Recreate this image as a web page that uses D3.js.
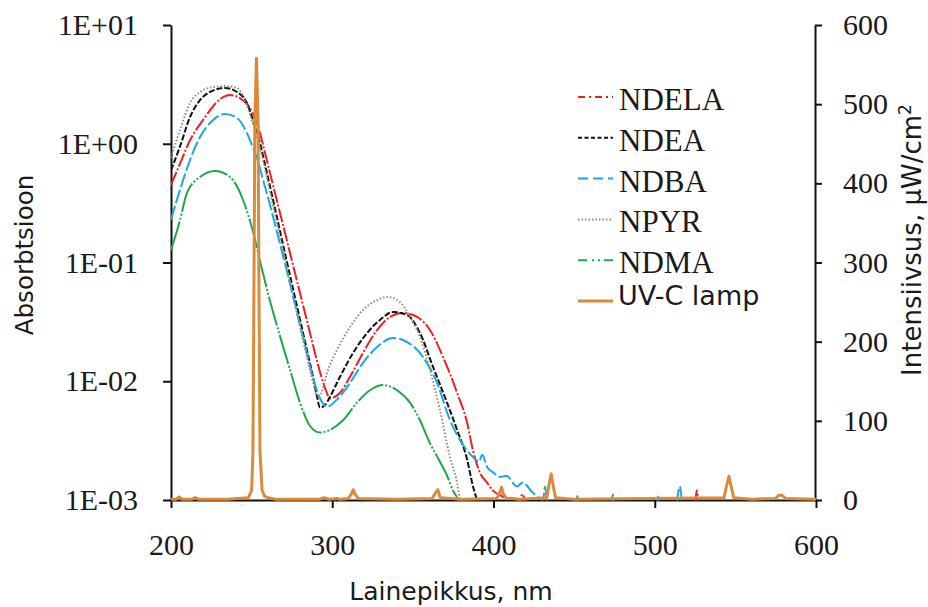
<!DOCTYPE html>
<html>
<head>
<meta charset="utf-8">
<script src="https://cdn.jsdelivr.net/npm/d3@7"></script>
<style>
  body { margin: 0; background: #fff; }
  .tick text { font-family: "Liberation Serif", "Times New Roman", serif; font-size: 30px; fill: #1a1a1a; }
  .title { font-family: "DejaVu Sans", Verdana, sans-serif; fill: #1a1a1a; }
  .legend text { font-family: "Liberation Serif", "Times New Roman", serif; font-size: 31px; fill: #1a1a1a; }
</style>
</head>
<body>
<svg></svg>
<script>
// absorbance readings [nm, A]
const ndela = [[200,0.45],[205.6,0.68],[211.8,1.07],[219.8,1.58],[229.8,2.33],[236.6,2.57],[242.8,2.42],[249,2.0],[255.2,1.23],[258.3,0.836],[261.4,0.567],[265.7,0.33],[269.5,0.207],[273.8,0.12],[276.9,0.0817],[280,0.0553],[286.2,0.0255],[291.2,0.0137],[295.5,0.0088],[298.6,0.0072],[302.3,0.0075],[304.8,0.008],[311,0.0109],[319,0.0173],[327.8,0.027],[335.8,0.0348],[343.9,0.0376],[352.6,0.0348],[360.6,0.027],[368.7,0.016],[377.4,0.008],[383.6,0.0045],[387.3,0.0026],[391.6,0.0017],[396,0.0014],[399.7,0.0012],[405.9,0.00106],[410,0.00095],[416,0.001],[418,0.00112],[420,0.00095],[424,0.0009],[525,0.0009],[526,0.0012],[527,0.0009]]
const ndea = [[200,0.6],[205.6,0.95],[211.8,1.68],[218,2.33],[224.2,2.73],[233.5,2.95],[240.9,2.73],[247.1,2.2],[250.9,1.58],[253.3,1.26],[255.2,1.01],[259.5,0.567],[263.3,0.336],[267.6,0.184],[271.9,0.101],[278.1,0.043],[284.3,0.0183],[288.1,0.0109],[290.5,0.0075],[292.4,0.006],[295.5,0.0063],[298.6,0.0074],[304.8,0.0109],[312.9,0.0173],[321.6,0.0255],[329.6,0.0328],[337.7,0.0383],[346.4,0.0361],[354.4,0.0255],[362.5,0.0132],[371.2,0.0066],[377.4,0.0039],[383.6,0.0022],[387.3,0.0013],[389.8,0.001],[391,0.0009]]
const ndba = [[200,0.23],[205.6,0.41],[211.8,0.73],[218,1.14],[226,1.58],[233.5,1.78],[240.9,1.65],[247.1,1.23],[250.2,0.976],[253.3,0.759],[257.1,0.496],[261.4,0.305],[265.7,0.181],[269.5,0.1135],[272.6,0.077],[278.1,0.0383],[283.1,0.0202],[288.1,0.0106],[293.6,0.0067],[296.7,0.0061],[302.9,0.007],[311,0.0097],[319.1,0.0143],[327.8,0.0194],[337.7,0.0231],[346.4,0.0214],[356.3,0.016],[365,0.0097],[373,0.0047],[379.2,0.0032],[387.3,0.0023],[391,0.0021],[393,0.0024],[396,0.0019],[400,0.0017],[404,0.00156],[408,0.0016],[414.6,0.0013],[418,0.0014],[424.5,0.00115],[430.7,0.001],[432,0.0013],[433.5,0.0009],[451,0.0009],[452,0.00108],[453,0.0009],[473,0.0009],[474,0.00112],[475,0.0009],[501,0.0009],[502,0.00107],[503,0.0009],[513,0.0009],[515.5,0.0013],[517,0.0009]]
const npyr = [[200,0.76],[205.6,1.31],[211.8,2.2],[218,2.73],[226,3.0],[233.5,3.06],[240.9,2.95],[245.9,2.33],[250.9,1.45],[253.3,1.15],[255.2,0.92],[259.5,0.52],[263.3,0.3],[267.6,0.165],[271.9,0.09],[278.1,0.037],[284.3,0.016],[288.1,0.0098],[290.5,0.0076],[293,0.0079],[296.7,0.0117],[302.9,0.0183],[311,0.0286],[319.1,0.0398],[327.8,0.0483],[334,0.0513],[342,0.0464],[348.2,0.0348],[354.4,0.0236],[360.6,0.0125],[366.8,0.0057],[373,0.0023],[377.4,0.0014],[379.2,0.001],[380,0.0009]]
const ndma = [[200,0.127],[205.6,0.228],[209.9,0.385],[218,0.525],[227.3,0.59],[236.6,0.525],[244.7,0.336],[250.9,0.181],[255.8,0.0953],[261.4,0.0474],[267.6,0.024],[273.8,0.0125],[280,0.0066],[286.2,0.0042],[292.4,0.0037],[298.6,0.0039],[306.7,0.0047],[315.3,0.0066],[323.4,0.0084],[331.5,0.0093],[340.2,0.0084],[348.2,0.0066],[354.4,0.0047],[360.6,0.003],[366.8,0.0021],[371.2,0.0016],[374.9,0.0012],[378,0.001],[379,0.0009]]

// lamp intensity [nm, µW/cm2]
const lamp = [[200,1],[203,1],[205,4],[207,1],[213,1],[215,3],[217,1],[235,1],[248,3],[250,12],[250.8,60],[251.4,250],[252,480],[253,558],[254,480],[254.6,250],[255.2,60],[256.5,12],[258,5],[260,3],[265,1],[292,1],[295,3],[298,1],[303,2],[305,1],[310,2],[312,8],[313,13],[314,8],[316,2],[340,1],[362,2],[364,9],[365.5,13],[367,3],[380,1],[402,2],[404,10],[405,16],[406,8],[408,2],[412,2],[416,1],[433,3],[434.5,20],[435.8,33],[437,18],[438.5,3],[450,1],[543,3],[544.5,18],[546,30],[547.5,16],[549,3],[560,1],[575,2],[577,6],[579,6],[581,2],[600,1]]

const xTicks = [200, 300, 400, 500, 600]
const absTicks = [0.001, 0.01, 0.1, 1, 10]
const absLabels = ["1E-03", "1E-02", "1E-01", "1E+00", "1E+01"]
const intTicks = [0, 100, 200, 300, 400, 500, 600]

const series = [
  { name: "NDELA", data: ndela, color: "#ee1f25", dash: "14,2,2,2", legendDash: "7,4,2,4" },
  { name: "NDEA", data: ndea, color: "#111111", dash: "6,2", legendDash: "4,2.5" },
  { name: "NDBA", data: ndba, color: "#1ea5e3", dash: "14,3", legendDash: "10,5" },
  { name: "NPYR", data: npyr, color: "#8e8e74", dash: "1.5,2", legendDash: "1.5,2" },
  { name: "NDMA", data: ndma, color: "#22a64c", dash: "30,2,2,2,2,2", legendDash: "9,5,2,4,2,4" }
]

const svg = d3.select("svg")
  .attr("width", 928)
  .attr("height", 607)

const x = d3.scaleLinear().domain([200, 600]).range([171, 816])
const yAbs = d3.scaleLog().domain([0.001, 10]).range([500, 25])
const yInt = d3.scaleLinear().domain([0, 600]).range([500, 25])

// axes
const styleAxis = g => {
  g.selectAll("path, line").attr("stroke", "#111").attr("stroke-width", 2)
}

svg.append("g")
  .attr("transform", "translate(0,500)")
  .call(d3.axisBottom(x).tickValues(xTicks).tickSize(8).tickSizeOuter(0).tickPadding(26).tickFormat(d3.format("d")))
  .call(styleAxis)

svg.append("g")
  .attr("transform", "translate(171,0)")
  .call(d3.axisLeft(yAbs).tickValues(absTicks).tickSize(8).tickSizeOuter(0).tickPadding(25)
    .tickFormat((d, i) => absLabels[i]))
  .call(styleAxis)

svg.append("g")
  .attr("transform", "translate(815,0)")
  .call(d3.axisRight(yInt).tickValues(intTicks).tickSize(7).tickSizeOuter(0).tickPadding(21))
  .call(styleAxis)

// curves
svg.append("clipPath")
  .attr("id", "plot")
  .append("rect")
  .attr("x", 171)
  .attr("y", 0)
  .attr("width", 645)
  .attr("height", 500.5)

const absLine = d3.line()
  .x(d => x(d[0]))
  .y(d => yAbs(d[1]))
  .curve(d3.curveMonotoneX)

svg.append("g")
  .attr("clip-path", "url(#plot)")
  .selectAll("path")
  .data(series)
  .enter()
  .append("path")
  .attr("d", d => absLine(d.data))
  .attr("fill", "none")
  .attr("stroke", d => d.color)
  .attr("stroke-width", 2)
  .attr("stroke-dasharray", d => d.dash)

const lampLine = d3.line()
  .x(d => x(d[0]))
  .y(d => yInt(d[1]))

svg.append("path")
  .attr("d", lampLine(lamp))
  .attr("fill", "none")
  .attr("stroke", "#d98b3b")
  .attr("stroke-width", 3)
  .attr("stroke-linejoin", "round")

// legend
const legend = svg.append("g").attr("class", "legend")

const rows = legend.selectAll("g")
  .data(series)
  .enter()
  .append("g")
  .attr("transform", (d, i) => `translate(0, ${97 + i * 40.8})`)

rows.append("line")
  .attr("x1", 578)
  .attr("x2", 613)
  .attr("stroke", d => d.color)
  .attr("stroke-width", 2)
  .attr("stroke-dasharray", d => d.legendDash)

rows.append("text")
  .attr("x", 619)
  .attr("y", 13)
  .text(d => d.name)

const lampRow = legend.append("g")
  .attr("transform", `translate(0, ${97 + series.length * 40.8})`)

lampRow.append("line")
  .attr("x1", 578)
  .attr("x2", 613)
  .attr("stroke", "#d98b3b")
  .attr("stroke-width", 3)

lampRow.append("text")
  .attr("x", 618)
  .attr("y", 4)
  .style("font-family", "'DejaVu Sans', Verdana, sans-serif")
  .style("font-size", "27px")
  .text("UV-C lamp")

// axis titles
svg.append("text")
  .attr("class", "title")
  .attr("transform", "translate(33,255) rotate(-90)")
  .attr("text-anchor", "middle")
  .style("font-size", "24.5px")
  .text("Absorbtsioon")

svg.append("text")
  .attr("class", "title")
  .attr("x", 451)
  .attr("y", 600)
  .attr("text-anchor", "middle")
  .style("font-size", "25px")
  .text("Lainepikkus, nm")

const rightTitle = svg.append("text")
  .attr("class", "title")
  .attr("transform", "translate(921,240) rotate(-90)")
  .attr("text-anchor", "middle")
  .style("font-size", "26px")

rightTitle.append("tspan").text("Intensiivsus, µW/cm")
rightTitle.append("tspan")
  .attr("baseline-shift", "super")
  .style("font-size", "17px")
  .text("2")
</script>
</body>
</html>
